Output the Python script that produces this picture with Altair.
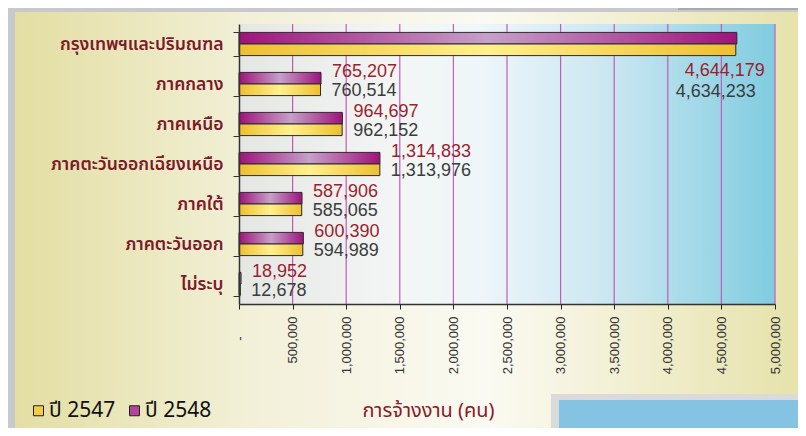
import altair as alt
import pandas as pd

# ---------------- data ----------------
regions = ["กรุงเทพฯและปริมณฑล", "ภาคกลาง", "ภาคเหนือ", "ภาคตะวันออกเฉียงเหนือ",
           "ภาคใต้", "ภาคตะวันออก", "ไม่ระบุ"]
years = ["ปี 2547", "ปี 2548"]
v2547 = [4634233, 760514, 962152, 1313976, 585065, 594989, 12678]
v2548 = [4644179, 765207, 964697, 1314833, 587906, 600390, 18952]
x_ticks = [0, 500000, 1000000, 1500000, 2000000, 2500000, 3000000,
           3500000, 4000000, 4500000, 5000000]

rows = []
for r, a, b in zip(regions, v2547, v2548):
    rows.append({"region": r, "year": years[0], "value": a})
    rows.append({"region": r, "year": years[1], "value": b})
df = pd.DataFrame(rows)
grid_df = pd.DataFrame({"value": x_ticks[1:]})
one = pd.DataFrame({"k": [0]})

W, H = 536, 280
FONT = "Liberation Sans"
THAI = "Tahoma, 'Noto Sans Thai', Loma, Garuda, 'DejaVu Sans', sans-serif"

x_enc = alt.X(
    "value:Q",
    scale=alt.Scale(domain=[0, 5000000], nice=False),
    axis=alt.Axis(
        values=x_ticks,
        labelExpr="datum.value == 0 ? '-' : format(datum.value, ',')",
        labelAngle=-90, labelFont=FONT, labelFontSize=13, labelColor="#333333",
        labelPadding={"condition": {"test": "datum.value == 0", "value": 27}, "value": 7},
        tickColor="#222222", tickSize=5, domainColor="#333333",
        domainWidth=1.5, grid=False, zindex=1,
        title="การจ้างงาน (คน)", titleX=189, titleY=106, titleAlign="center",
        titleBaseline="middle", titleFont=THAI, titleFontSize=20,
        titleFontWeight="normal", titleColor="#8b1a2a",
    ),
)
y_enc = alt.Y(
    "region:N", sort=regions,
    scale=alt.Scale(paddingInner=0.42, paddingOuter=0.21),
    axis=alt.Axis(
        tickBand="extent", labelFont=THAI, labelFontSize=17.5, labelFontWeight=600,
        labelColor="#7b1a2b", tickSize=6, tickColor="#333333", domainColor="#333333",
        domainWidth=1.5, labelPadding=10, labelLimit=300, grid=False, zindex=1,
    ),
    title=None,
)
yoff = alt.YOffset("year:N", sort=[years[1], years[0]],
                   scale=alt.Scale(paddingInner=0, paddingOuter=0))


def grad(stops, horizontal=True):
    return alt.Gradient(
        gradient="linear",
        stops=[alt.GradientStop(offset=o, color=c) for o, c in stops],
        x1=0, x2=1 if horizontal else 0, y1=0, y2=0 if horizontal else 1,
    )


# ---------------- decoration ----------------
panel = alt.Chart(one).mark_rect(
    fill=grad([(0, "#e3dea2"), (0.3, "#f2f0d8"), (0.6, "#fbfaf2"), (1, "#e6e2ab")])
).encode(x=alt.value(-224), x2=alt.value(561), y=alt.value(-12), y2=alt.value(404))

tab = alt.Chart(one).mark_rect(fill="#a9aaae").encode(
    x=alt.value(439), x2=alt.value(567), y=alt.value(-24), y2=alt.value(-14))

blue_border = alt.Chart(one).mark_rect(fill="#d9dadc").encode(
    x=alt.value(312), x2=alt.value(567), y=alt.value(370), y2=alt.value(412))
blue = alt.Chart(one).mark_rect(fill="#84c4e2", cornerRadiusBottomRight=8).encode(
    x=alt.value(320), x2=alt.value(561), y=alt.value(376), y2=alt.value(412))

plot_bg = alt.Chart(one).mark_rect(
    fill=grad([(0, "#e4e7e3"), (0.3, "#f3f6f5"), (0.45, "#eef6f9"),
               (0.7, "#c9e6f1"), (1, "#80cce0")])
).encode(x=alt.value(0), x2=alt.value(W), y=alt.value(0), y2=alt.value(H))

# ---------------- data layers ----------------
grid = alt.Chart(grid_df).mark_rule(color="#c25cba", strokeWidth=1.2).encode(x=x_enc)

base = alt.Chart(df).encode(x=x_enc, y=y_enc, yOffset=yoff)

legend_layer = base.mark_point(filled=True, opacity=0).encode(
    color=alt.Color(
        "year:N",
        scale=alt.Scale(domain=years, range=["#f3cd48", "#b0459a"]),
        legend=alt.Legend(
            orient="none", legendX=-211, legendY=376, direction="horizontal",
            title=None, symbolType="square", symbolSize=100,
            symbolStrokeColor="#222222", symbolStrokeWidth=1, symbolOpacity=1,
            labelFont=THAI, labelFontSize=21, labelColor="#111111",
            columnPadding=8, labelOffset=0,
        ),
    )
)

bars47 = base.transform_filter(alt.datum.year == years[0]).mark_bar(
    fill=grad([(0, "#eebf30"), (0.5, "#fff08c"), (1, "#eebf30")]),
    stroke="#2a2a2a", strokeWidth=1,
)
bars48 = base.transform_filter(alt.datum.year == years[1]).mark_bar(
    fill=grad([(0, "#a0127c"), (0.5, "#c6a0ca"), (1, "#a0127c")]),
    stroke="#2a2a2a", strokeWidth=1,
)

txt = alt.Text("value:Q", format=",")
FS = 18
t48 = base.transform_filter(
    (alt.datum.year == years[1]) & (alt.datum.value < 4000000)
).mark_text(align="left", baseline="middle", dx=11, dy=-6, font=FONT,
            fontSize=FS, color="#9c1f2f").encode(text=txt)
t47 = base.transform_filter(
    (alt.datum.year == years[0]) & (alt.datum.value < 4000000)
).mark_text(align="left", baseline="middle", dx=11, dy=1, font=FONT,
            fontSize=FS, color="#3a3d3a").encode(text=txt)
t48b = base.transform_filter(
    (alt.datum.year == years[1]) & (alt.datum.value >= 4000000)
).mark_text(align="right", baseline="middle", dx=28, dy=33, font=FONT,
            fontSize=FS, color="#9c1f2f").encode(text=txt)
t47b = base.transform_filter(
    (alt.datum.year == years[0]) & (alt.datum.value >= 4000000)
).mark_text(align="right", baseline="middle", dx=20, dy=42, font=FONT,
            fontSize=FS, color="#3a3d3a").encode(text=txt)

chart = alt.layer(
    panel, tab, blue_border, blue, plot_bg, grid, legend_layer,
    bars48, bars47, t48, t47, t48b, t47b,
).properties(
    width=W, height=H,
    autosize=alt.AutoSizeParams(type="none"),
    padding={"left": 231, "top": 16, "right": 23, "bottom": 124},
    background="#c8c9cc",
).configure_view(stroke=None)

chart.save("out.html", embed_options={"renderer": "svg", "actions": False})
